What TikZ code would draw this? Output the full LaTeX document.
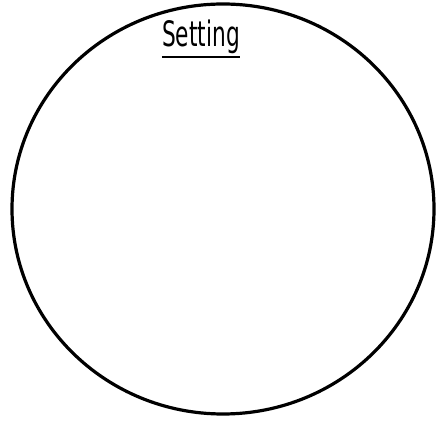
\documentclass[tikz,border=0pt]{standalone}
\usepackage{fontspec}
\setmainfont{DejaVu Sans}
\begin{document}
\begin{tikzpicture}[x=1pt,y=1pt,
  ring/.style={line width=3.2pt, draw=black},
  titletext/.style={inner sep=0pt, anchor=base, font=\fontsize{35}{35}\selectfont},
  uline/.style={line width=1.8pt}]
\useasboundingbox (0,0) rectangle (441,422);
\draw[ring] (223,213) ellipse [x radius=211, y radius=205];
\node[titletext] (title) at (201,375) {\scalebox{0.62}[1]{Setting}};
\coordinate (ul) at ([yshift=-10pt]title.base west);
\coordinate (ur) at ([yshift=-10pt]title.base east);
\draw[uline] (ul) -- (ur);
\end{tikzpicture}
\end{document}
